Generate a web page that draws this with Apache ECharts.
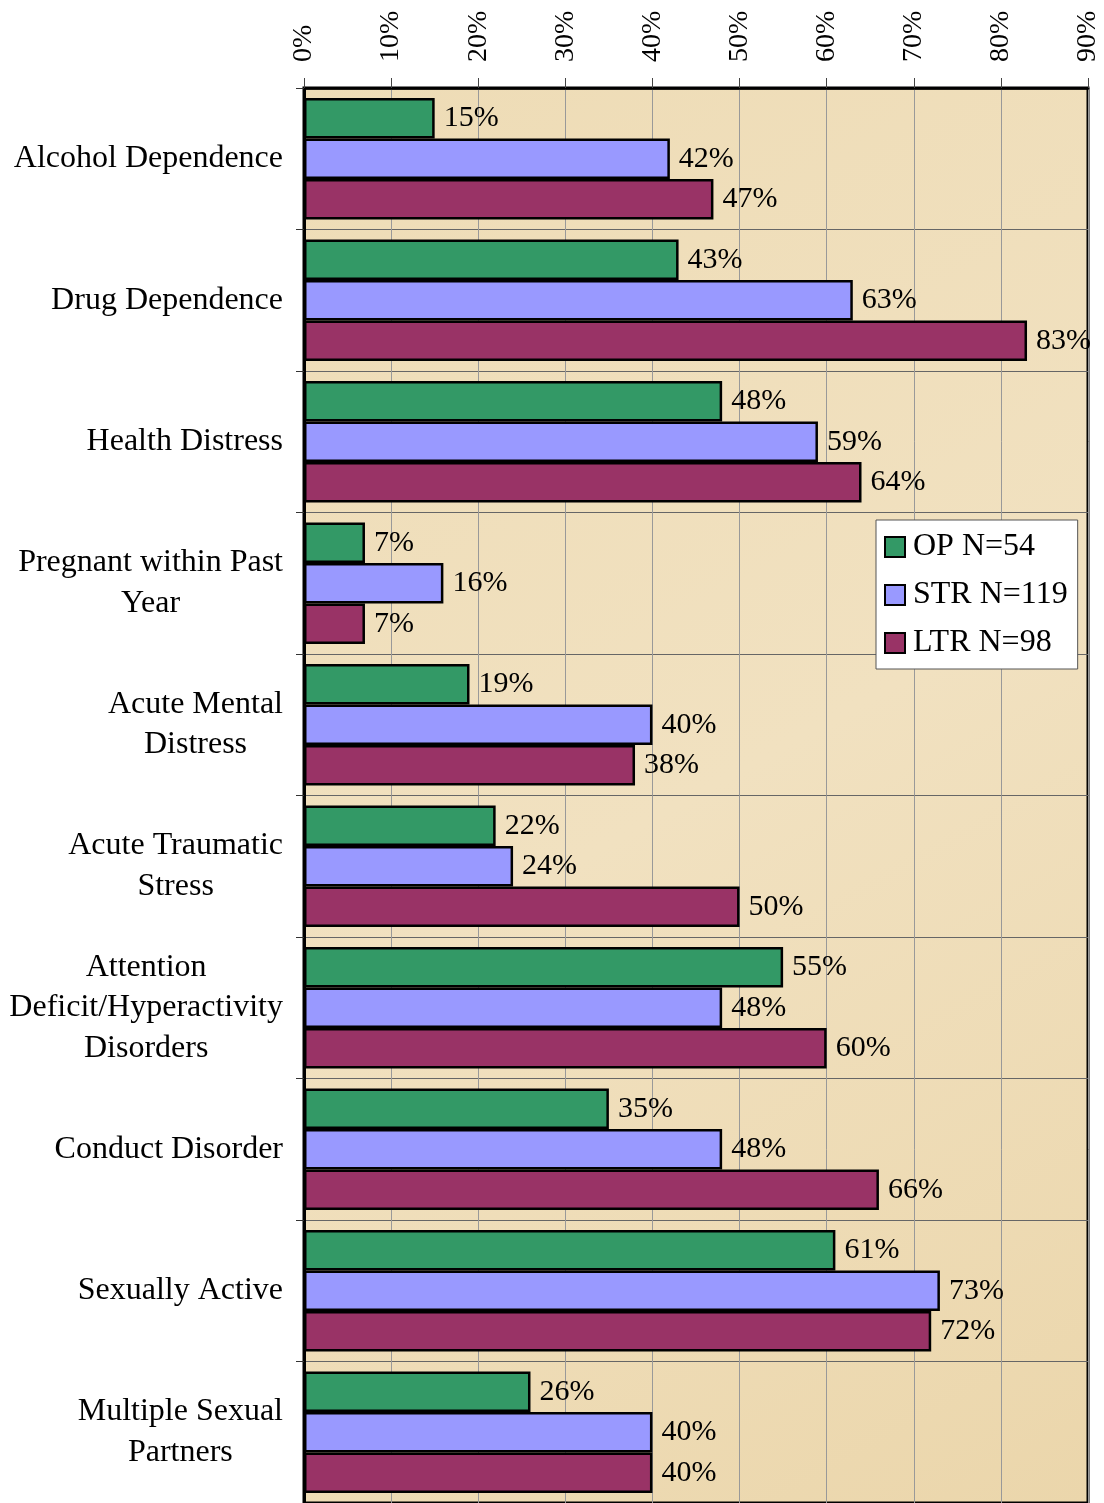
<!DOCTYPE html>
<html>
<head>
<meta charset="utf-8">
<script src="https://cdn.jsdelivr.net/npm/echarts@6/dist/echarts.min.js"></script>
<style>
  html, body { margin: 0; padding: 0; background: #fff; }
  #chart { width: 1104px; height: 1503px; }
</style>
</head>
<body>
<div id="chart"></div>
<script>
// categories, top to bottom
const categories = [
  'Alcohol Dependence',
  'Drug Dependence',
  'Health Distress',
  'Pregnant within Past\nYear',
  'Acute Mental\nDistress',
  'Acute Traumatic\nStress',
  'Attention\nDeficit/Hyperactivity\nDisorders',
  'Conduct Disorder',
  'Sexually Active',
  'Multiple Sexual\nPartners'
]

// percentages per group
const opValues = [15, 43, 48, 7, 19, 22, 55, 35, 61, 26]
const strValues = [42, 63, 59, 16, 40, 24, 48, 48, 73, 40]
const ltrValues = [47, 83, 64, 7, 38, 50, 60, 66, 72, 40]

const seriesNames = ['OP N=54', 'STR N=119', 'LTR N=98']
const seriesColors = ['#339966', '#9999ff', '#993366']

// x axis ticks
const xMin = 0
const xMax = 90
const xStep = 10

const serif = '"Liberation Serif", "DejaVu Serif", serif'

let myChart = echarts.init(document.getElementById('chart'))

function makeSeries(name, data, color) {
    return {
        name: name,
        type: 'bar',
        data: data,
        barGap: '0%',
        barCategoryGap: '14%',
        itemStyle: {
            color: color,
            borderColor: '#000',
            borderWidth: 2.5
        },
        label: {
            show: true,
            position: 'right',
            distance: 9,
            formatter: '{c}%',
            color: '#000',
            fontFamily: serif,
            fontSize: 30
        }
    }
}

let option = {
    backgroundColor: '#fff',
    animation: false,
    grid: {
        left: 304,
        top: 88,
        right: 16,
        height: 1417,
        show: true,
        backgroundColor: {
            type: 'linear', x: 0, y: 0, x2: 1, y2: 1,
            colorStops: [
                { offset: 0, color: '#eedcb6' },
                { offset: 0.5, color: '#f1e1c0' },
                { offset: 1, color: '#ebd6ab' }
            ]
        },
        borderColor: '#000',
        borderWidth: 3
    },
    legend: {
        orient: 'vertical',
        left: 876,
        top: 520,
        data: seriesNames,
        backgroundColor: '#fff',
        borderColor: '#555',
        borderWidth: 1,
        padding: [11, 10, 10, 8],
        itemWidth: 20,
        itemHeight: 20,
        itemGap: 16,
        icon: 'rect',
        textStyle: {
            color: '#000',
            fontFamily: serif,
            fontSize: 32,
            padding: [0, 0, 0, 3]
        }
    },
    xAxis: {
        type: 'value',
        position: 'top',
        min: xMin,
        max: xMax,
        interval: xStep,
        axisLine: {
            show: true,
            lineStyle: { color: '#000', width: 2.5 }
        },
        axisTick: {
            show: true,
            length: 10,
            lineStyle: { color: '#444', width: 1 }
        },
        axisLabel: {
            rotate: -90,
            margin: 26,
            formatter: '{value}%',
            color: '#000',
            fontFamily: serif,
            fontSize: 28
        },
        splitLine: {
            show: true,
            lineStyle: { color: '#999', width: 1 }
        }
    },
    yAxis: {
        type: 'category',
        inverse: true,
        data: categories,
        axisLine: {
            show: true,
            lineStyle: { color: '#000', width: 3 }
        },
        axisTick: {
            show: true,
            length: 8,
            lineStyle: { color: '#333', width: 1 }
        },
        splitLine: {
            show: true,
            lineStyle: { color: '#666', width: 1 }
        },
        axisLabel: {
            margin: 21,
            color: '#000',
            formatter: function (value) {
                return value.split('\n').map(l => '{c|' + l + '}').join('\n')
            },
            rich: {
                c: {
                    align: 'center',
                    fontFamily: serif,
                    fontSize: 32,
                    lineHeight: 40.5,
                    color: '#000'
                }
            }
        }
    },
    series: [
        makeSeries(seriesNames[0], opValues, seriesColors[0]),
        makeSeries(seriesNames[1], strValues, seriesColors[1]),
        makeSeries(seriesNames[2], ltrValues, seriesColors[2])
    ]
}

myChart.setOption(option)
</script>
</body>
</html>
